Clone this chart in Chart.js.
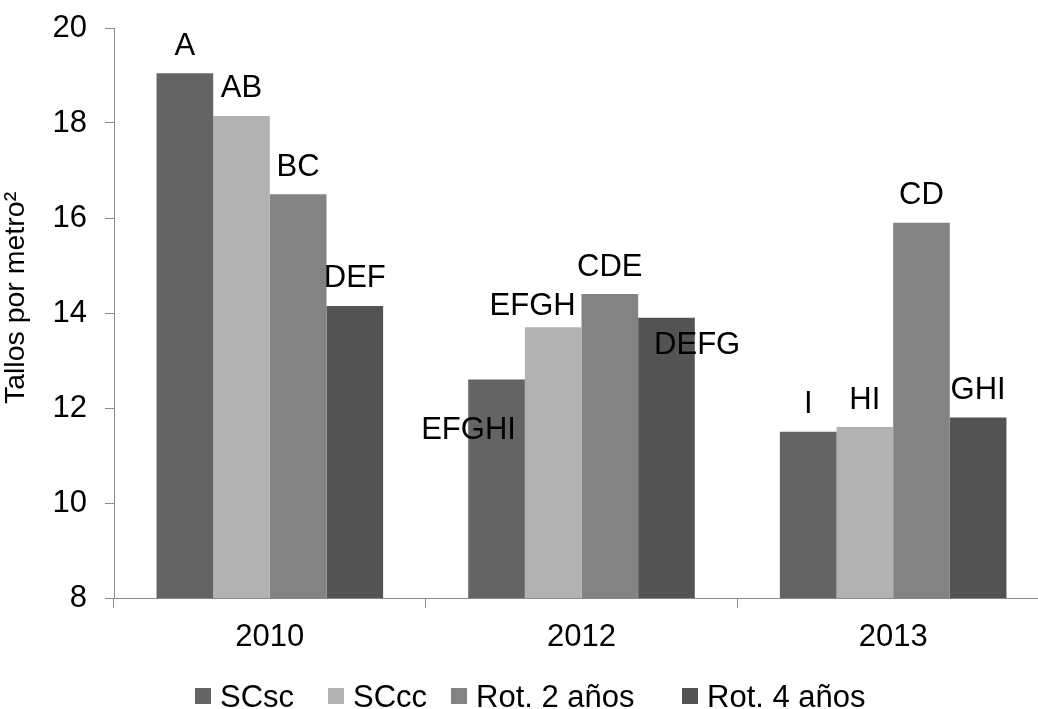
<!DOCTYPE html>
<html>
<head>
<meta charset="utf-8">
<script src="https://cdn.jsdelivr.net/npm/chart.js@4.4.1/dist/chart.umd.min.js"></script>
<style>
  html, body { margin: 0; padding: 0; background: #ffffff; overflow: hidden; }
  #wrap { position: relative; width: 1062px; height: 709px; }
</style>
</head>
<body>
<div id="wrap"><canvas id="chart"></canvas></div>
<script>
// Years on the category axis
const years = ['2010', '2012', '2013'];

// Stems per square metre for each management system
const seriesNames = ['SCsc', 'SCcc', 'Rot. 2 años', 'Rot. 4 años'];
const scsc = [19.05, 12.6, 11.5];
const sccc = [18.15, 13.7, 11.6];
const rot2 = [16.5, 14.4, 15.9];
const rot4 = [14.15, 13.9, 11.8];

// Significance letters shown on each bar
const scscLetters = ['A', 'EFGHI', 'I'];
const scccLetters = ['AB', 'EFGH', 'HI'];
const rot2Letters = ['BC', 'CDE', 'CD'];
const rot4Letters = ['DEF', 'DEFG', 'GHI'];

// Value axis ticks
const yMin = 8, yMax = 20, yStep = 2;

const yTitle = 'Tallos por metro²';
const colors = ['#646464', '#b2b2b2', '#838383', '#535353'];
const axisColor = '#8a8a8a';
const FONT = '"Liberation Sans", Arial, sans-serif';
const TEXT_SIZE = 31;
const CAP_HALF = TEXT_SIZE * 0.716 / 2;

// Letter placement relative to the top of its bar (centre of the capitals)
const defaultLetterOffset = [0, -29.5];
const letterOffsets = { '0,1': [-28, 48.5], '1,1': [-20.5, -23.5], '3,1': [30.7, 25.5] };

// Legend layout
const legendBoxX = [195, 328, 451, 682];
const legendBoxY = 688, legendBox = 16, legendGap = 9;

const allValues = [scsc, sccc, rot2, rot4];
const allLetters = [scscLetters, scccLetters, rot2Letters, rot4Letters];

const letterPlugin = {
  id: 'letters',
  afterDatasetsDraw(chart) {
    const ctx = chart.ctx;
    ctx.save();
    ctx.font = TEXT_SIZE + 'px ' + FONT;
    ctx.fillStyle = '#000000';
    ctx.textAlign = 'center';
    ctx.textBaseline = 'alphabetic';
    chart.data.datasets.forEach((ds, i) => {
      const meta = chart.getDatasetMeta(i);
      meta.data.forEach((bar, j) => {
        const off = letterOffsets[i + ',' + j] || defaultLetterOffset;
        ctx.fillText(allLetters[i][j], bar.x + off[0], bar.y + off[1] + CAP_HALF);
      });
    });
    ctx.restore();
  }
};

const extrasPlugin = {
  id: 'extras',
  afterDraw(chart) {
    const ctx = chart.ctx;
    ctx.save();
    // value axis title
    ctx.translate(16, 298);
    ctx.rotate(-Math.PI / 2);
    ctx.font = '28.5px ' + FONT;
    ctx.fillStyle = '#000000';
    ctx.textAlign = 'center';
    ctx.textBaseline = 'middle';
    ctx.fillText(yTitle, 0, 0);
    ctx.restore();

    // legend
    ctx.save();
    ctx.font = TEXT_SIZE + 'px ' + FONT;
    ctx.textAlign = 'left';
    ctx.textBaseline = 'alphabetic';
    chart.data.datasets.forEach((ds, i) => {
      ctx.fillStyle = ds.backgroundColor;
      ctx.fillRect(legendBoxX[i], legendBoxY, legendBox, legendBox);
      ctx.fillStyle = '#000000';
      ctx.fillText(ds.label, legendBoxX[i] + legendBox + legendGap, 695.5 + CAP_HALF);
    });
    ctx.restore();
  }
};

new Chart(document.getElementById('chart'), {
  type: 'bar',
  data: {
    labels: years,
    datasets: seriesNames.map((name, i) => ({
      label: name,
      data: allValues[i],
      backgroundColor: colors[i],
      borderWidth: 0
    }))
  },
  options: {
    responsive: true,
    maintainAspectRatio: false,
    devicePixelRatio: 1,
    animation: false,
    categoryPercentage: 0.727,
    barPercentage: 1.0,
    layout: { padding: { left: 0, right: 13, top: 28, bottom: 0 } },
    plugins: {
      legend: { display: false },
      tooltip: { enabled: false }
    },
    scales: {
      x: {
        afterFit(scale) { scale.height = 111; scale.paddingLeft = 0; scale.paddingRight = 0; },
        grid: { offset: true, drawOnChartArea: false, drawTicks: true, tickLength: 10, color: axisColor },
        border: { color: axisColor, width: 1 },
        ticks: { color: '#000000', font: { family: FONT, size: TEXT_SIZE }, padding: 11 }
      },
      y: {
        min: yMin,
        max: yMax,
        afterFit(scale) { scale.width = 114; scale.paddingTop = 0; scale.paddingBottom = 0; },
        grid: { drawOnChartArea: false, drawTicks: true, tickLength: 9, color: axisColor },
        border: { color: axisColor, width: 1 },
        ticks: { stepSize: yStep, color: '#000000', font: { family: FONT, size: TEXT_SIZE }, padding: 18 }
      }
    }
  },
  plugins: [letterPlugin, extrasPlugin]
});
</script>
</body>
</html>
